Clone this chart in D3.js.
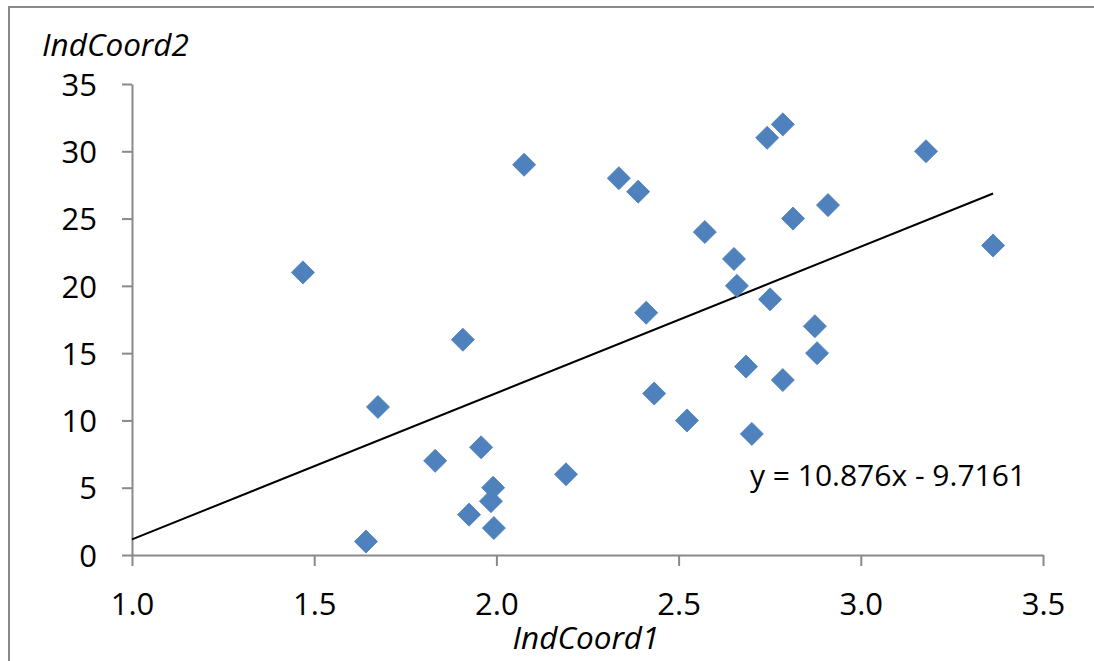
<!DOCTYPE html>
<html>
<head>
<meta charset="utf-8">
<script src="https://cdn.jsdelivr.net/npm/d3@7"></script>
<style>
  html, body { margin: 0; padding: 0; background: #fff; }
  svg { display: block; }
  text { font-family: "Open Sans", "Liberation Sans", sans-serif; fill: #000; }
</style>
</head>
<body>
<svg id="chart" width="1094" height="661"></svg>
<script>
// Data
const indCoord1 = [1.469, 1.642, 1.675, 1.832, 1.908, 1.925, 1.958, 1.985, 1.991, 1.993,
                   2.076, 2.191, 2.336, 2.389, 2.411, 2.433, 2.523, 2.572, 2.652, 2.660,
                   2.685, 2.701, 2.743, 2.751, 2.786, 2.786, 2.814, 2.874, 2.880, 2.910,
                   3.179, 3.363];
const indCoord2 = [21, 1, 11, 7, 16, 3, 8, 4, 5, 2,
                   29, 6, 28, 27, 18, 12, 10, 24, 22, 20,
                   14, 9, 31, 19, 32, 13, 25, 17, 15, 26,
                   30, 23];
const xTicks = [1.0, 1.5, 2.0, 2.5, 3.0, 3.5];
const yTicks = [0, 5, 10, 15, 20, 25, 30, 35];
const trendSlope = 10.876;
const trendIntercept = -9.7161;
const xTitle = "IndCoord1";
const yTitle = "IndCoord2";
const equationLabel = "y = 10.876x - 9.7161";

const svg = d3.select("#chart");
const axisColor = "#898989";

// outer chart frame (top and left edges visible)
svg.append("rect")
  .attr("x", 9).attr("y", 7)
  .attr("width", 1200).attr("height", 800)
  .attr("fill", "none")
  .attr("stroke", axisColor)
  .attr("stroke-width", 2);

const x = d3.scaleLinear().domain([1.0, 3.5]).range([132, 1043]);
const y = d3.scaleLinear().domain([0, 35]).range([555, 84]);

// Y axis
const yAxis = d3.axisLeft(y).tickValues(yTicks).tickFormat(d3.format("d"))
  .tickSizeInner(10).tickSizeOuter(0).tickPadding(10);
const gy = svg.append("g").attr("transform", `translate(${x(1.0)},0)`).call(yAxis);
gy.select(".domain").attr("stroke", axisColor).attr("stroke-width", 2);
gy.selectAll(".tick line").attr("stroke", axisColor).attr("stroke-width", 2);
gy.selectAll(".tick text")
  .style("font-family", '"Open Sans", "Liberation Sans", sans-serif')
  .style("font-size", "31px").attr("fill", "#000")
  .attr("x", -35).attr("dy", "0.36em");

// X axis
const xAxis = d3.axisBottom(x).tickValues(xTicks).tickFormat(d3.format(".1f"))
  .tickSizeInner(11).tickSizeOuter(0).tickPadding(10);
const gx = svg.append("g").attr("transform", `translate(0,${y(0)})`).call(xAxis);
gx.select(".domain").attr("stroke", axisColor).attr("stroke-width", 2);
gx.selectAll(".tick line").attr("stroke", axisColor).attr("stroke-width", 2);
gx.selectAll(".tick text")
  .style("font-family", '"Open Sans", "Liberation Sans", sans-serif')
  .style("font-size", "31px").attr("fill", "#000")
  .attr("y", 0).attr("dy", 0)
  .attr("transform", "translate(0,60)");

// Axis titles
svg.append("text")
  .attr("x", 42).attr("y", 56)
  .style("font-size", "31.5px").style("font-style", "italic")
  .text(yTitle);
svg.append("text")
  .attr("x", 586).attr("y", 649)
  .attr("text-anchor", "middle")
  .style("font-size", "31.5px").style("font-style", "italic")
  .text(xTitle);

// Trend line
const xMin = 1.0, xMax = d3.max(indCoord1);
svg.append("line")
  .attr("x1", x(xMin)).attr("y1", y(trendSlope * xMin + trendIntercept))
  .attr("x2", x(xMax)).attr("y2", y(trendSlope * xMax + trendIntercept))
  .attr("stroke", "#000").attr("stroke-width", 2);

// Points (diamonds)
const pts = indCoord1.map((v, i) => ({ x: v, y: indCoord2[i] }));
const diamond = d3.symbol().type(d3.symbolSquare).size(265);
svg.append("g").selectAll("path").data(pts).join("path")
  .attr("d", diamond)
  .attr("transform", d => `translate(${x(d.x)},${y(d.y)}) rotate(45)`)
  .attr("fill", "#4F81BD")
  .attr("stroke", "#4A7EBB")
  .attr("stroke-width", 0.8);

// Equation label
svg.append("text")
  .attr("x", 750).attr("y", 486)
  .style("font-size", "30px")
  .text(equationLabel);
</script>
</body>
</html>
